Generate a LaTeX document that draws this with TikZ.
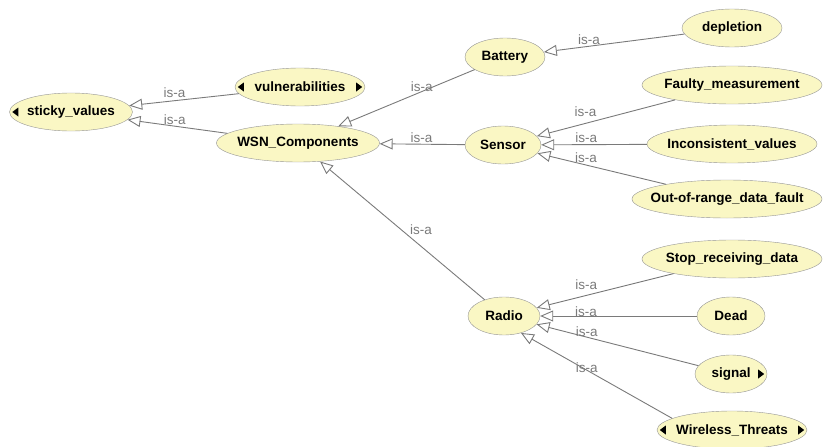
\documentclass[tikz,border=0pt]{standalone}
\usepackage{fontspec}
\setmainfont{Liberation Sans}
\usetikzlibrary{shapes.geometric,arrows.meta}

\definecolor{conceptfill}{HTML}{FAF7C4}
\definecolor{edgegray}{HTML}{7A7A7A}

\begin{document}
\begin{tikzpicture}[
      x=1pt, y=-1pt,
      concept/.style = {ellipse, draw=edgegray!80, fill=conceptfill,
                        minimum height=38pt, inner sep=0pt,
                        font=\fontsize{13.5}{16}\selectfont\bfseries,
                        execute at begin node={\hbox to 0pt\bgroup\hss},
                        execute at end node={\hss\egroup}},
      isa/.style   = {{Triangle[fill=white, length=13pt, width=11pt]}-,
                      draw=edgegray, line width=0.9pt},
      lbl/.style   = {font=\fontsize{13.5}{16}\selectfont, text=edgegray,
                      anchor=base west, inner sep=0pt},
      expand/.style = {fill=black}
    ]
    \useasboundingbox (0,0) rectangle (823,447);

    % Nodes
    \node[concept, minimum width=123pt] (sticky)   at (71,112)  {sticky\_values};
    \node[concept, minimum width=130pt] (vuln)     at (300,87)  {vulnerabilities};
    \node[concept, minimum width=163pt] (wsn)      at (298,143) {WSN\_Components};
    \node[concept, minimum width=80pt]  (battery)  at (505,57)  {Battery};
    \node[concept, minimum width=76pt]  (sensor)   at (503,145) {Sensor};
    \node[concept, minimum width=72pt]  (radio)    at (504,316) {Radio};
    \node[concept, minimum width=100pt] (depletion) at (732,28) {depletion};
    \node[concept, minimum width=180pt] (faulty)   at (732,85)  {Faulty\_measurement};
    \node[concept, minimum width=170pt] (incons)   at (732,144) {Inconsistent\_values};
    \node[concept, minimum width=190pt] (range)    at (727,199) {Out-of-range\_data\_fault};
    \node[concept, minimum width=180pt] (stop)     at (732,259) {Stop\_receiving\_data};
    \node[concept, minimum width=68pt]  (dead)     at (731,316) {Dead};
    \node[concept, minimum width=72pt]  (signal)   at (731,374) {signal};
    \node[concept, minimum width=150pt] (wireless) at (732,430) {Wireless\_Threats};

    % Expand markers
    \fill[expand] (sticky.west)   ++(3,0)  -- ++(6,-4.5) -- ++(0,9) -- cycle;
    \fill[expand] (vuln.west)     ++(3,0)  -- ++(6,-4.5) -- ++(0,9) -- cycle;
    \fill[expand] (vuln.east)     ++(-3,0) -- ++(-6,-4.5) -- ++(0,9) -- cycle;
    \fill[expand] (signal.east)   ++(-3,0) -- ++(-6,-4.5) -- ++(0,9) -- cycle;
    \fill[expand] (wireless.west) ++(3,0)  -- ++(6,-4.5) -- ++(0,9) -- cycle;
    \fill[expand] (wireless.east) ++(-3,0) -- ++(-6,-4.5) -- ++(0,9) -- cycle;

    % Arrows
    \draw[isa] (sticky)  -- node[lbl, pos=0.31, yshift=4pt] {is-a} (vuln);
    \draw[isa] (sticky)  -- node[lbl, pos=0.36] {is-a} (wsn);
    \draw[isa] (wsn)     -- node[lbl, pos=0.53, yshift=4.5pt] {is-a} (battery);
    \draw[isa] (wsn)     -- node[lbl, pos=0.36, yshift=2pt] {is-a} (sensor);
    \draw[isa] (wsn)     -- node[lbl, pos=0.53, xshift=2.5pt] {is-a} (radio);
    \draw[isa] (battery) -- node[lbl, pos=0.24, yshift=3pt] {is-a} (depletion);
    \draw[isa] (sensor)  -- node[lbl, pos=0.27, yshift=10pt] {is-a} (faulty);
    \draw[isa] (sensor)  -- node[lbl, pos=0.32, yshift=2.5pt] {is-a} (incons);
    \draw[isa] (sensor)  -- node[lbl, pos=0.29] {is-a} (range);
    \draw[isa] (radio)   -- node[lbl, pos=0.28, yshift=9pt] {is-a} (stop);
    \draw[isa] (radio)   -- node[lbl, pos=0.22] {is-a} (dead);
    \draw[isa] (radio)   -- node[lbl, pos=0.24, yshift=-2pt] {is-a} (signal);
    \draw[isa] (radio.-45) -- node[lbl, pos=0.36, yshift=-9pt] {is-a} (wireless.169);
\end{tikzpicture}
\end{document}
